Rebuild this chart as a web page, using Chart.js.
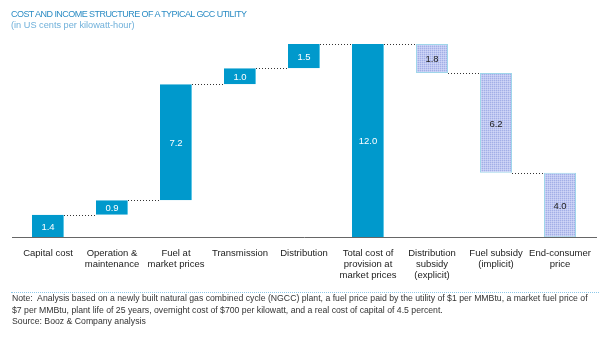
<!DOCTYPE html>
<html>
<head>
<meta charset="utf-8">
<script src="https://cdn.jsdelivr.net/npm/chart.js@4.4.0/dist/chart.umd.min.js"></script>
<style>
  body { margin: 0; background: #fff; font-family: "Liberation Sans", Arial, sans-serif; }
  #wrap { position: relative; width: 601px; height: 337px; overflow: hidden; }
  #chartBox { position: absolute; left: 0; top: 0; width: 601px; height: 337px; }
  .title { position: absolute; left: 11px; top: 9px; font-size: 9px; letter-spacing: -0.55px; color: #2b8cc4; }
  .sub { position: absolute; left: 11px; top: 20px; font-size: 9.2px; color: #6fb0da; }
  .rule { position: absolute; left: 11px; top: 292px; width: 588px; border-top: 1px dotted #8cc8ea; }
  .note { position: absolute; left: 12px; top: 293px; font-size: 8.7px; line-height: 11.6px; color: #333; white-space: nowrap; }
</style>
</head>
<body>
<div id="wrap">
  <div id="chartBox"><canvas id="chart"></canvas></div>
  <div class="title">COST AND INCOME STRUCTURE OF A TYPICAL GCC UTILITY</div>
  <div class="sub">(in US cents per kilowatt-hour)</div>
  <div class="rule"></div>
  <div class="note">Note:&nbsp; Analysis based on a newly built natural gas combined cycle (NGCC) plant, a fuel price paid by the utility of $1 per MMBtu, a market fuel price of<br>$7 per MMBtu, plant life of 25 years, overnight cost of $700 per kilowatt, and a real cost of capital of 4.5 percent.<br>Source: Booz &amp; Company analysis</div>
</div>
<script>
document.addEventListener("DOMContentLoaded", function () {
  const categories = [
    ["Capital cost"],
    ["Operation &", "maintenance"],
    ["Fuel at", "market prices"],
    ["Transmission"],
    ["Distribution"],
    ["Total cost of", "provision at", "market prices"],
    ["Distribution", "subsidy", "(explicit)"],
    ["Fuel subsidy", "(implicit)"],
    ["End-consumer", "price"],
  ];
  // positive = cost added, negative = subsidy removed, total = full bar
  const steps = [1.4, 0.9, 7.2, 1.0, 1.5, 12.0, -1.8, -6.2, 4.0];
  const isTotal = [false, false, false, false, false, true, false, false, true];
  const isSubsidy = [false, false, false, false, false, false, true, true, true];

  const ranges = [];
  const levels = [];
  let run = 0;
  steps.forEach((s, i) => {
    if (isTotal[i]) {
      ranges.push([0, s]);
      run = s;
    } else {
      ranges.push([run, run + s]);
      run = run + s;
    }
    levels.push(Math.round(run * 10) / 10);
  });

  // dotted lavender fill for the subsidy bars
  const pc = document.createElement("canvas");
  pc.width = 2;
  pc.height = 2;
  const px = pc.getContext("2d");
  px.fillStyle = "#c0c8f2";
  px.fillRect(0, 0, 2, 2);
  px.fillStyle = "#a3afe6";
  px.fillRect(0, 0, 1, 1);
  px.fillStyle = "#d0d6f6";
  px.fillRect(1, 1, 1, 1);
  const ctxPat = document.getElementById("chart").getContext("2d");
  const subsidyFill = ctxPat.createPattern(pc, "repeat");

  const blue = "#0099cc";

  const extras = {
    id: "extras",
    afterDatasetsDraw(chart) {
      const { ctx, scales } = chart;
      const meta = chart.getDatasetMeta(0);
      const y0 = scales.y.getPixelForValue(0);
      ctx.save();
      // baseline
      ctx.strokeStyle = "#666";
      ctx.lineWidth = 1;
      ctx.beginPath();
      ctx.moveTo(12, Math.round(y0) + 0.5);
      ctx.lineTo(597, Math.round(y0) + 0.5);
      ctx.stroke();
      // connectors
      ctx.strokeStyle = "#333";
      ctx.setLineDash([1, 2]);
      for (let i = 0; i < meta.data.length - 1; i++) {
        const a = meta.data[i];
        const b = meta.data[i + 1];
        const y = Math.round(scales.y.getPixelForValue(levels[i])) + 0.5;
        ctx.beginPath();
        ctx.moveTo(a.x + a.width / 2, y);
        ctx.lineTo(b.x - b.width / 2, y);
        ctx.stroke();
      }
      ctx.setLineDash([]);
      // values
      ctx.font = "9.5px 'Liberation Sans', Arial, sans-serif";
      ctx.textAlign = "center";
      ctx.textBaseline = "middle";
      meta.data.forEach((bar, i) => {
        const r = ranges[i];
        const mid = scales.y.getPixelForValue((r[0] + r[1]) / 2);
        ctx.fillStyle = isSubsidy[i] ? "#222" : "#fff";
        ctx.fillText(Math.abs(steps[i]).toFixed(1), bar.x, mid + 1);
      });
      ctx.restore();
    },
  };

  new Chart(document.getElementById("chart"), {
    type: "bar",
    data: {
      labels: categories,
      datasets: [
        {
          data: ranges,
          backgroundColor: isSubsidy.map((s) => (s ? subsidyFill : blue)),
          borderColor: isSubsidy.map((s) => (s ? "#9fd6ea" : "#5cc6e6")),
          borderWidth: isSubsidy.map((s) => (s ? 1 : { right: 1 })),
          borderSkipped: false,
          barPercentage: 0.5,
          categoryPercentage: 1,
        },
      ],
    },
    options: {
      responsive: true,
      maintainAspectRatio: false,
      animation: false,
      layout: { padding: { left: 16, right: 9, top: 44, bottom: 53 } },
      plugins: {
        legend: { display: false },
        tooltip: { enabled: false },
      },
      scales: {
        x: {
          grid: { display: false },
          border: { display: false },
          ticks: {
            color: "#222",
            font: { family: "'Liberation Sans', Arial, sans-serif", size: 9.5, lineHeight: 1.15 },
            maxRotation: 0,
            autoSkip: false,
            padding: 3,
          },
        },
        y: {
          display: false,
          min: 0,
          max: 12,
        },
      },
    },
    plugins: [extras],
  });
});
</script>
</body>
</html>
